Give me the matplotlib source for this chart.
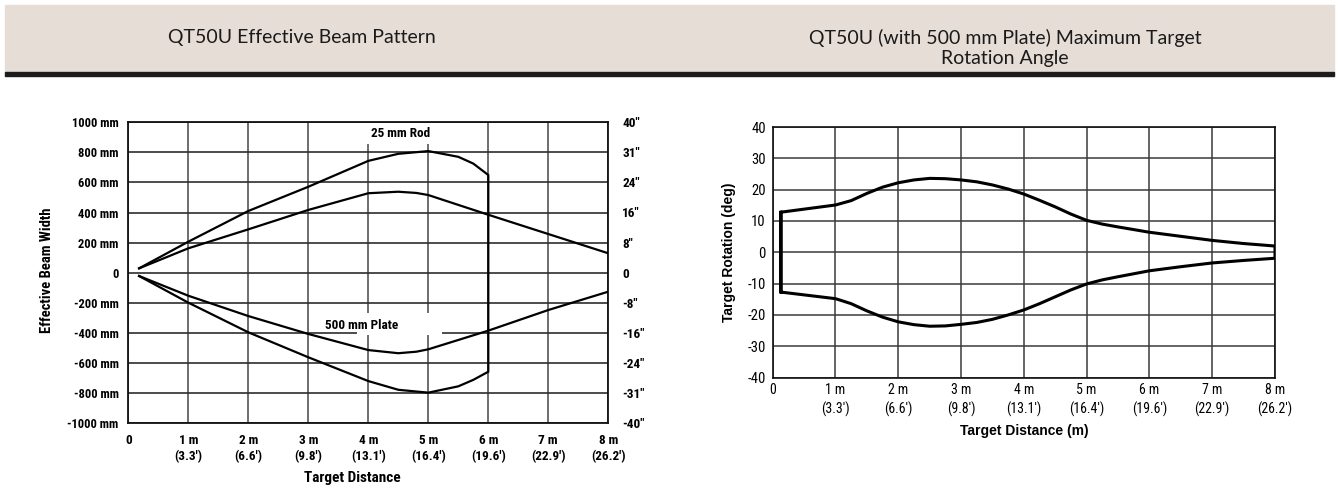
import matplotlib.pyplot as plt
from matplotlib import font_manager as fm
from matplotlib.patches import Rectangle

# ---- data: left chart, effective beam pattern (m, mm)
rod_x = [0.18, 1, 2, 3, 4, 4.5, 5, 5.5, 5.75, 6.0]
rod_up = [29, 206, 410, 571, 743, 790, 808, 770, 725, 649]
rod_lo = [-22, -199, -396, -562, -720, -778, -797, -755, -712, -658]

plate_x = [0.18, 1, 2, 3, 4, 4.5, 4.8, 5, 6, 7, 8]
plate_up = [29, 162, 288, 417, 528, 538, 530, 516, 385, 257, 129]
plate_lo = [-22, -153, -288, -407, -514, -535, -525, -509, -385, -248, -126]

dist_ticks = [0, 1, 2, 3, 4, 5, 6, 7, 8]
dist_labels = ["0", "1 m\n(3.3')", "2 m\n(6.6')", "3 m\n(9.8')", "4 m\n(13.1')",
               "5 m\n(16.4')", "6 m\n(19.6')", "7 m\n(22.9')", "8 m\n(26.2')"]
mm_ticks = [1000, 800, 600, 400, 200, 0, -200, -400, -600, -800, -1000]
mm_labels = ["1000 mm", "800 mm", "600 mm", "400 mm", "200 mm", "0",
             "-200 mm", "-400 mm", "-600 mm", "-800 mm", "-1000 mm"]
inch_labels = ['40"', '31"', '24"', '16"', '8"', '0',
               '-8"', '-16"', '-24"', '-31"', '-40"']

# ---- data: right chart, max target rotation (m, deg)
rot_x = [0.13, 1, 1.25, 1.5, 1.75, 2, 2.25, 2.5, 2.75, 3, 3.25, 3.5, 3.75,
         4, 4.25, 4.5, 4.75, 5, 5.25, 5.5, 6, 6.5, 7, 7.5, 8]
rot_up = [12.8, 15.1, 16.5, 18.8, 20.8, 22.2, 23.1, 23.6, 23.5, 23.1, 22.5,
          21.5, 20.2, 18.6, 16.6, 14.5, 12.2, 10.2, 9.0, 8.1, 6.4, 5.1, 3.8, 2.8, 2.0]
rot_lo = [-12.7, -14.8, -16.4, -18.7, -20.7, -22.2, -23.1, -23.6, -23.5, -23.0, -22.4,
          -21.4, -20.0, -18.4, -16.4, -14.2, -12.0, -10.1, -8.8, -7.8, -5.9, -4.6, -3.4, -2.6, -1.9]
deg_ticks = [40, 30, 20, 10, 0, -10, -20, -30, -40]


def pick(cands):
    for c in cands:
        try:
            fm.findfont(fm.FontProperties(family=c), fallback_to_default=False)
            return c
        except ValueError:
            pass
    return None


cond = pick(['Liberation Sans Narrow', 'Roboto Condensed', 'Arial Narrow',
             'Open Sans Condensed'])
if cond:
    narrow = [cond, 'DejaVu Sans']
    k = 1.0
else:
    narrow = ['Liberation Sans', 'DejaVu Sans']
    k = 0.87
sans = ['Liberation Sans', 'DejaVu Sans']

W, H = 1338, 488
fig = plt.figure(figsize=(W / 100, H / 100), dpi=100)

# header band
fig.patches.append(Rectangle((5 / W, 1 - 72 / H), 1329 / W, 67 / H,
                             transform=fig.transFigure, color='#e6ddd7', zorder=0))
fig.patches.append(Rectangle((5 / W, 1 - 76 / H), 1329 / W, 4 / H,
                             transform=fig.transFigure, color='#1c1c1c', zorder=0))
tfont = dict(family=['Lato', 'DejaVu Sans'], fontsize=14, color='#1a1a1a')
fig.text(302 / W, 1 - 37 / H, "QT50U Effective Beam Pattern",
         ha='center', va='center', **tfont)
fig.text(1005 / W, 1 - 48 / H, "QT50U (with 500 mm Plate) Maximum Target\nRotation Angle",
         ha='center', va='center', linespacing=1.2, **tfont)

# ---- left chart
ax1 = fig.add_axes([128.3 / W, 1 - 423.2 / H, 480 / W, 301 / H])
ax1.set_xlim(0, 8)
ax1.set_ylim(-1000, 1000)
ax1.set_axisbelow(True)
ax1.xaxis.grid(True, color='#6e6e6e', lw=1.4)
ax1.yaxis.grid(True, color='#2e2e2e', lw=1.2)
ax1.set_xticks(dist_ticks)
ax1.set_xticklabels(dist_labels, family=narrow, fontweight='bold', fontsize=9.5 * k,
                    linespacing=1.3)
ax1.set_yticks(mm_ticks)
ax1.set_yticklabels(mm_labels, family=narrow, fontweight='bold', fontsize=9 * k)
ax1.tick_params(length=0)
ax1.tick_params(axis='x', pad=8)
ax1.tick_params(axis='y', pad=7)
for s in ax1.spines.values():
    s.set_color('#111111')
    s.set_linewidth(1.3)

ax1.plot(rod_x + [6.0] + rod_x[::-1], rod_up + [rod_lo[-1]] + rod_lo[::-1],
         color='black', lw=1.6, zorder=4)
ax1.plot(plate_x, plate_up, color='black', lw=1.6, zorder=4)
ax1.plot(plate_x, plate_lo, color='black', lw=1.6, zorder=4)

ax1.text(4.53, 925, "25 mm Rod", ha='center', va='center', family=narrow,
         fontweight='bold', fontsize=9.5 * k, zorder=3,
         bbox=dict(facecolor='white', edgecolor='none', pad=3))
ax1.add_patch(Rectangle((3.81, -414), 1.42, 146, facecolor='white',
                        edgecolor='none', zorder=2))
ax1.text(3.89, -352, "500 mm Plate", ha='center', va='center', family=narrow,
         fontweight='bold', fontsize=9.5 * k, zorder=3)

ax1r = ax1.twinx()
ax1r.set_ylim(-1000, 1000)
ax1r.set_yticks(mm_ticks)
ax1r.set_yticklabels(inch_labels, family=narrow, fontweight='bold', fontsize=9.5 * k)
ax1r.tick_params(length=0, pad=10)
for s in ax1r.spines.values():
    s.set_visible(False)

ax1.text(3.73, -1000 - (478 - 423.2) / 0.1505, "Target Distance", ha='center',
         va='center', family=narrow, fontweight='bold', fontsize=11 * k)
fig.text(47 / W, 1 - 270 / H, "Effective Beam Width", rotation=90, ha='center',
         va='center', family=narrow, fontweight='bold', fontsize=10.5 * k)

# ---- right chart
ax2 = fig.add_axes([772.7 / W, 1 - 377.6 / H, 502.3 / W, 250.6 / H])
ax2.set_xlim(0, 8)
ax2.set_ylim(-40, 40)
ax2.set_axisbelow(True)
ax2.grid(True, color='#3a3a3a', lw=1.1)
ax2.set_xticks(dist_ticks)
ax2.set_xticklabels(dist_labels, family=narrow, fontsize=10 * k, linespacing=1.4)
ax2.set_yticks(deg_ticks)
ax2.set_yticklabels([str(t) for t in deg_ticks], family=narrow, fontsize=10.5 * k)
ax2.tick_params(length=0)
ax2.tick_params(axis='x', pad=4)
ax2.tick_params(axis='y', pad=5)
for s in ax2.spines.values():
    s.set_color('#111111')
    s.set_linewidth(1.2)

ax2.plot([rot_x[0]] + rot_x + rot_x[::-1] + [rot_x[0]],
         [rot_lo[0]] + rot_up + rot_lo[::-1] + [rot_up[0]],
         color='black', lw=2.2, zorder=4)
ax2.set_xlabel("Target Distance (m)", family=sans, fontweight='bold', fontsize=10,
               labelpad=5)
ax2.set_ylabel("Target Rotation (deg)", family=sans, fontweight='bold', fontsize=10,
               labelpad=8)

fig.savefig("out.png", dpi=100)
